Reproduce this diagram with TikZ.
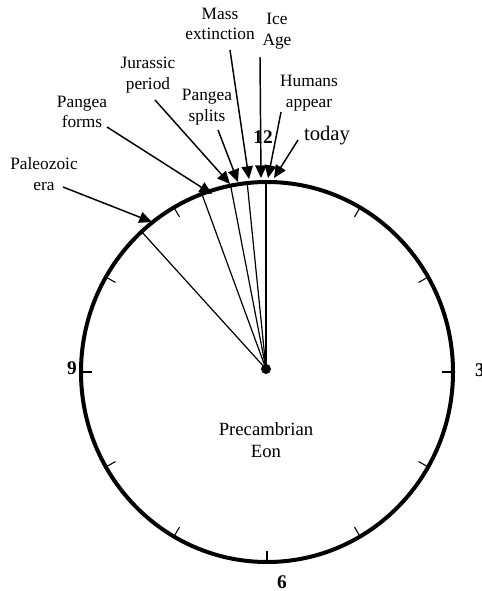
\documentclass[tikz,border=0pt]{standalone}
\usepackage{fontspec}
\setmainfont{Liberation Serif}
\usetikzlibrary{arrows.meta}

\begin{document}
\begin{tikzpicture}[x=0.75pt, y=-0.75pt,
    lbl/.style={align=center, inner sep=0pt,
      font=\fontsize{13}{15.5}\selectfont},
    num/.style={inner sep=0pt, font=\fontsize{14.5}{16}\selectfont\bfseries},
    arr/.style={-{Triangle[length=9.5pt, width=8.5pt]}, line width=1.1pt},
    hand/.style={line width=0.9pt},
    tick/.style={line width=0.8pt}]
  \useasboundingbox (0,0) rectangle (481,591);
  % clock face and hour marks
  \draw[line width=3pt] (267,372) ellipse [x radius=186, y radius=190];
  \foreach \a in {0,30,60,120,150,...,330}
    \draw[tick] ({267+186*cos(\a)},{372-190*sin(\a)})
      -- ({267+175*cos(\a)},{372-179*sin(\a)});
  \node[num] (n12) at (263,137) {12};
  \node[num] (n9)  at (72,368)  {9};
  \node[num] (n6)  at (282,582) {6};
  \node[num] (n3)  at (480,370) {3};
  \node[lbl, font=\fontsize{14}{16.5}\selectfont] (pre) at (266,440) {Precambrian\\Eon};
  % hands from the centre
  \coordinate (h1) at (141.6,231.7);
  \coordinate (h2) at (201.9,194.0);
  \coordinate (h3) at (230.6,185.6);
  \coordinate (h4) at (247.2,183.1);
  \coordinate (h5) at (266,182);
  \node[circle, fill, inner sep=0pt, minimum size=7.5pt] (ctr) at (266,369) {};
  \foreach \h in {h1,h2,h3,h4,h5}
    \draw[hand] (ctr.center) -- (\h);
  % event labels
  \node[lbl] (pale) at (44,174)  {Paleozoic\\era};
  \node[lbl] (pfrm) at (82,112)  {Pangea\\forms};
  \node[lbl] (jura) at (148,75)  {Jurassic\\period};
  \node[lbl] (pspl) at (207,107) {Pangea\\splits};
  \node[lbl] (mass) at (220,24)  {Mass\\extinction};
  \node[lbl] (ice)  at (277,31)  {Ice\\Age};
  \node[lbl] (hum)  at (309,93)  {Humans\\appear};
  \node[lbl, font=\fontsize{15.5}{17}\selectfont] (tod) at (327,136) {today};
  % arrow ends
  \coordinate (paleS) at (63,187);  \coordinate (paleT) at (152,222);
  \coordinate (pfrmS) at (107,127); \coordinate (pfrmT) at (212,194);
  \coordinate (juraS) at (155,100); \coordinate (juraT) at (230,184);
  \coordinate (psplS) at (218,130); \coordinate (psplT) at (238,182);
  \coordinate (massS) at (230,50);  \coordinate (massT) at (249,179);
  \coordinate (iceS)  at (260,57);  \coordinate (iceT)  at (261,178);
  \coordinate (humS)  at (281,112); \coordinate (humT)  at (268,178);
  \coordinate (todS)  at (298,140); \coordinate (todT)  at (274,178);
  \foreach \e in {pale,pfrm,jura,pspl,mass,ice,hum,tod}
    \draw[arr] (\e S) -- (\e T);
\end{tikzpicture}
\end{document}
